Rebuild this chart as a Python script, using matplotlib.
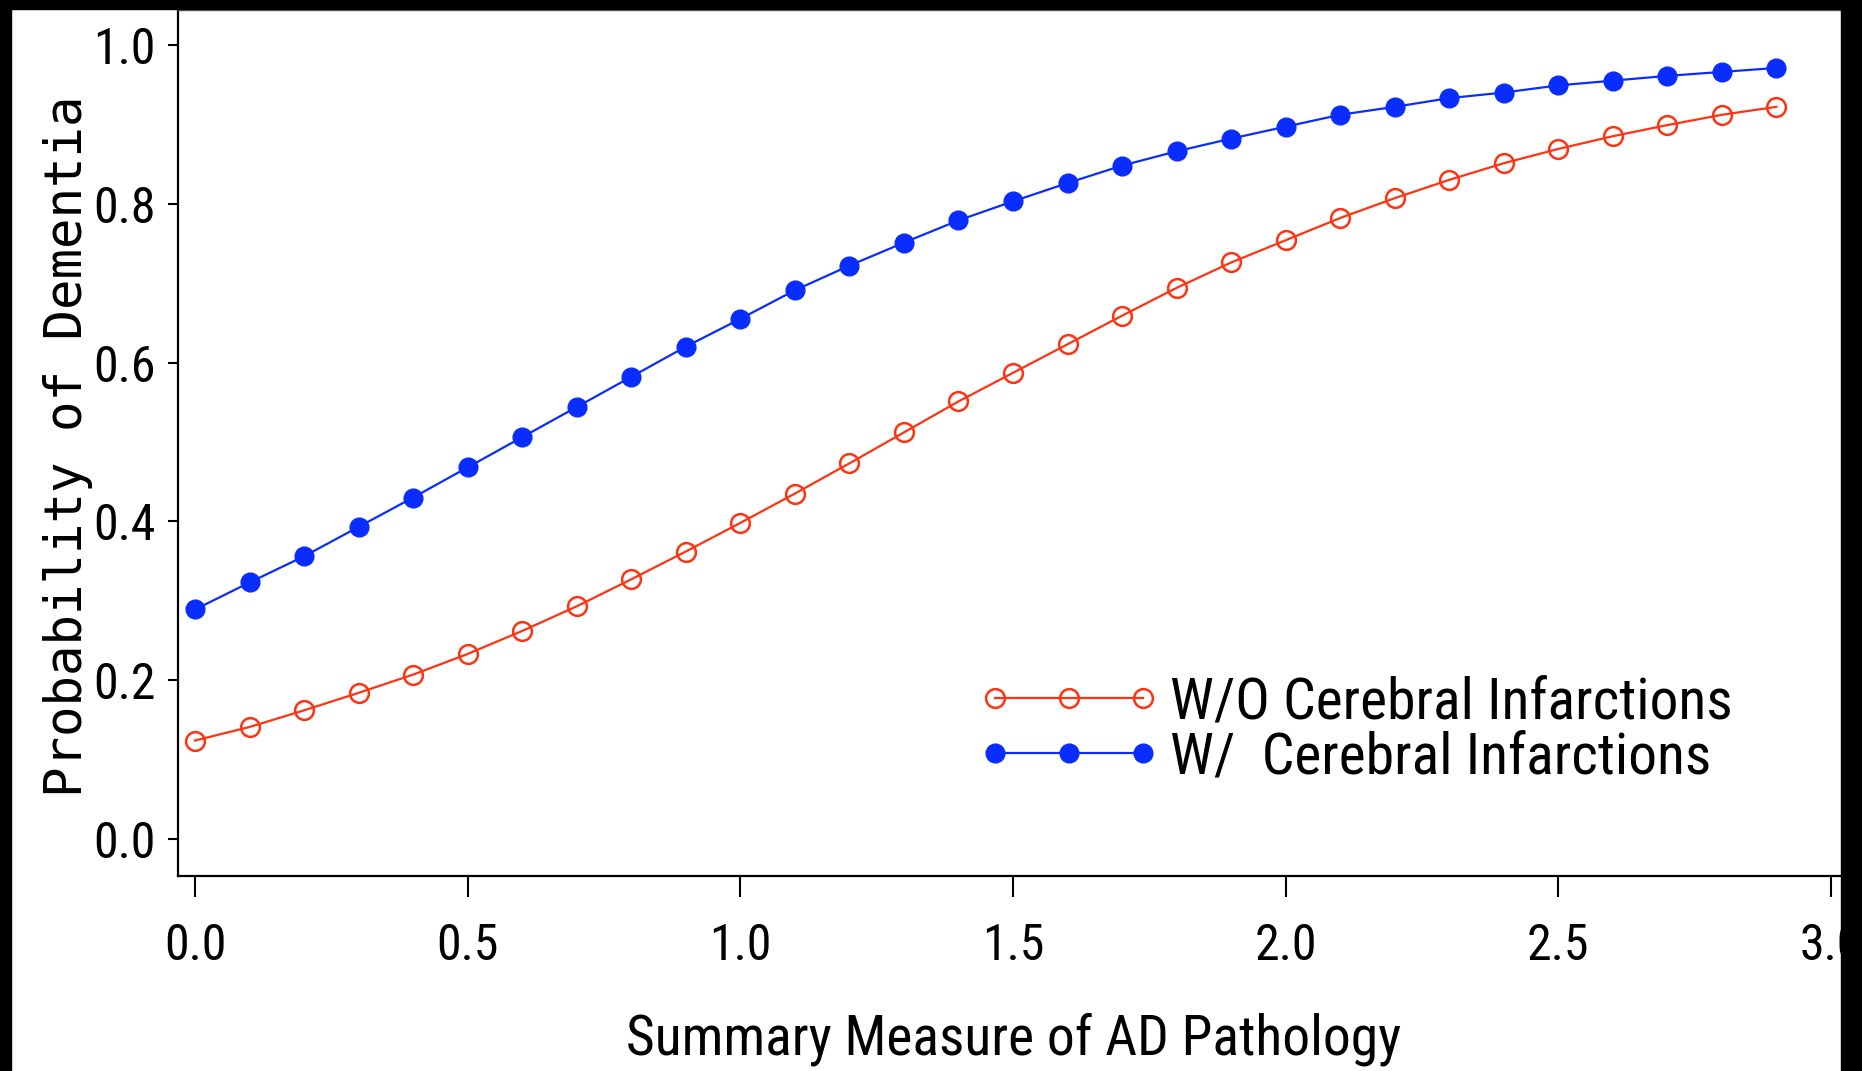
import numpy as np
import matplotlib.pyplot as plt
from matplotlib import font_manager
from matplotlib.patches import Rectangle

# 字体：优先用窄体
names = {f.name for f in font_manager.fontManager.ttflist}
narrow = ['Roboto Condensed', 'Liberation Sans Narrow', 'Open Sans Condensed',
          'Noto Sans Condensed']
fam = next((n for n in narrow if n in names), None)
if fam:
    plt.rcParams['font.family'] = [fam, 'DejaVu Sans']
else:
    plt.rcParams['font.family'] = ['DejaVu Sans']
    plt.rcParams['font.stretch'] = 'condensed'

# AD 病理综合评分
x = [0.0, 0.1, 0.2, 0.3, 0.4, 0.5, 0.6, 0.7, 0.8, 0.9,
     1.0, 1.1, 1.2, 1.3, 1.4, 1.5, 1.6, 1.7, 1.8, 1.9,
     2.0, 2.1, 2.2, 2.3, 2.4, 2.5, 2.6, 2.7, 2.8, 2.9]

# 无脑梗死
p_without = [0.124, 0.141, 0.162, 0.184, 0.207, 0.233, 0.262, 0.293, 0.327, 0.362,
             0.398, 0.435, 0.473, 0.512, 0.551, 0.587, 0.623, 0.659, 0.694, 0.726,
             0.754, 0.782, 0.807, 0.830, 0.851, 0.869, 0.885, 0.899, 0.912, 0.922]
# 有脑梗死
p_with = [0.289, 0.323, 0.356, 0.393, 0.430, 0.468, 0.506, 0.544, 0.582, 0.620,
          0.655, 0.691, 0.722, 0.751, 0.779, 0.803, 0.826, 0.848, 0.866, 0.882,
          0.897, 0.912, 0.922, 0.933, 0.940, 0.949, 0.955, 0.961, 0.966, 0.971]

labels = ['W/O Cerebral Infarctions', 'W/  Cerebral Infarctions']
xticks = [0.0, 0.5, 1.0, 1.5, 2.0, 2.5, 3.0]
yticks = [0.0, 0.2, 0.4, 0.6, 0.8, 1.0]

red = '#ff3312'
blue = '#0a2dff'

fig = plt.figure(figsize=(18.62, 10.71), dpi=100)
ax = fig.add_axes([0.0956, 0.1821, 0.8980, 0.8086])

ax.plot(x, p_without, color=red, lw=1.6, marker='o', ms=13.5,
        mfc='none', mec=red, mew=1.8, label=labels[0])
ax.plot(x, p_with, color=blue, lw=1.6, marker='o', ms=13.5,
        mfc=blue, mec=blue, label=labels[1])

ax.set_xlim(-0.0312, 3.035)
ax.set_ylim(-0.0466, 1.044)
ax.set_xticks(xticks)
ax.set_yticks(yticks)
ax.set_xticklabels(['%.1f' % v for v in xticks])
ax.set_yticklabels(['%.1f' % v for v in yticks])

for s in ['left', 'bottom']:
    ax.spines[s].set_linewidth(1.6)
ax.spines['top'].set_linewidth(1.0)
ax.spines['top'].set_color('#666666')
ax.spines['right'].set_visible(False)

ax.tick_params(axis='y', length=7.2, width=1.5, pad=9, labelsize=36)
ax.tick_params(axis='x', length=15, width=1.5, pad=18, labelsize=36)

ax.set_xlabel('Summary Measure of AD Pathology', fontsize=40)
ax.xaxis.set_label_coords(0.5, -0.157)
# 纵轴标题字距较宽，用等宽字体
ax.set_ylabel('Probability of Dementia', fontsize=36.5,
              family=['DejaVu Sans Mono', 'DejaVu Sans'])
ax.yaxis.set_label_coords(-0.0508, 0.4965)

ax.legend(loc='upper left', bbox_to_anchor=(0.4783, 0.2313), frameon=False,
          numpoints=3, fontsize=41.5, handlelength=3.17, handletextpad=0.17,
          labelspacing=0.0, borderpad=0, borderaxespad=0)

# 图片四周的黑边
W, H = 1862, 1071
fig.add_artist(Rectangle((0, 0), 11 / W, 1, transform=fig.transFigure,
                         color='black', zorder=10))
fig.add_artist(Rectangle((0, 1 - 9 / H), 1, 9 / H, transform=fig.transFigure,
                         color='black', zorder=10))
fig.add_artist(Rectangle((1841 / W, 0), 21 / W, 1, transform=fig.transFigure,
                         color='black', zorder=10))

fig.savefig('out.png', dpi=100)
